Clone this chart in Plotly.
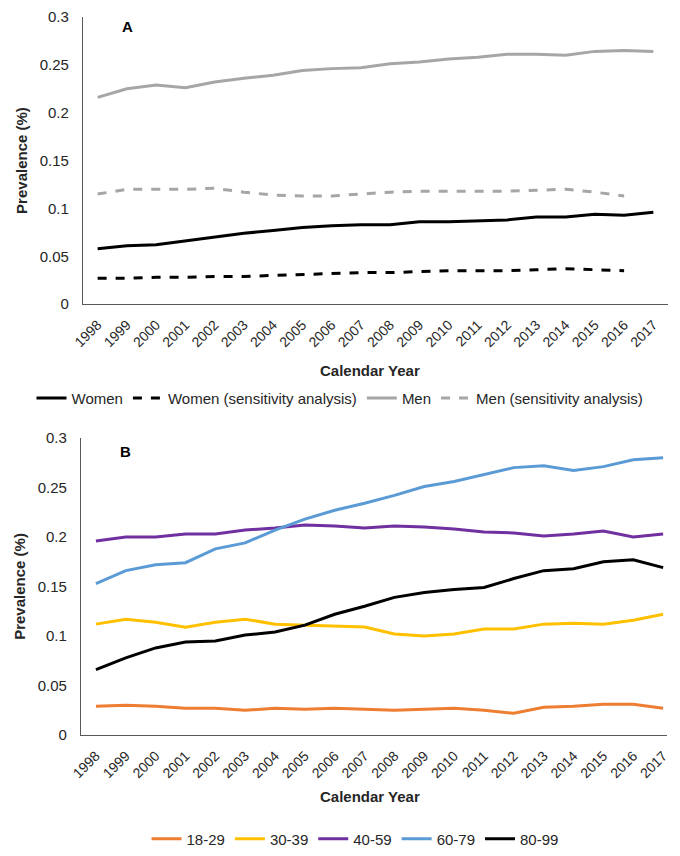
import plotly.graph_objects as go

years = [str(y) for y in range(1998, 2018)]
years_sens = years[:19]

# Panel A: sex
women = [0.058, 0.061, 0.062, 0.066, 0.070, 0.074, 0.077, 0.080, 0.082, 0.083,
         0.083, 0.086, 0.086, 0.087, 0.088, 0.091, 0.091, 0.094, 0.093, 0.096]
women_sens = [0.027, 0.027, 0.028, 0.028, 0.029, 0.029, 0.030, 0.031, 0.032, 0.033,
              0.033, 0.034, 0.035, 0.035, 0.035, 0.036, 0.037, 0.036, 0.035]
men = [0.216, 0.225, 0.229, 0.226, 0.232, 0.236, 0.239, 0.244, 0.246, 0.247,
       0.251, 0.253, 0.256, 0.258, 0.261, 0.261, 0.260, 0.264, 0.265, 0.264]
men_sens = [0.115, 0.120, 0.120, 0.120, 0.121, 0.117, 0.114, 0.113, 0.113, 0.115,
            0.117, 0.118, 0.118, 0.118, 0.118, 0.119, 0.120, 0.117, 0.113]

# Panel B: age groups
age_18_29 = [0.029, 0.030, 0.029, 0.027, 0.027, 0.025, 0.027, 0.026, 0.027, 0.026,
             0.025, 0.026, 0.027, 0.025, 0.022, 0.028, 0.029, 0.031, 0.031, 0.027]
age_30_39 = [0.112, 0.117, 0.114, 0.109, 0.114, 0.117, 0.112, 0.111, 0.110, 0.109,
             0.102, 0.100, 0.102, 0.107, 0.107, 0.112, 0.113, 0.112, 0.116, 0.122]
age_40_59 = [0.196, 0.200, 0.200, 0.203, 0.203, 0.207, 0.209, 0.212, 0.211, 0.209,
             0.211, 0.210, 0.208, 0.205, 0.204, 0.201, 0.203, 0.206, 0.200, 0.203]
age_60_79 = [0.153, 0.166, 0.172, 0.174, 0.188, 0.194, 0.207, 0.218, 0.227, 0.234,
             0.242, 0.251, 0.256, 0.263, 0.270, 0.272, 0.267, 0.271, 0.278, 0.280]
age_80_99 = [0.066, 0.078, 0.088, 0.094, 0.095, 0.101, 0.104, 0.111, 0.122, 0.130,
             0.139, 0.144, 0.147, 0.149, 0.158, 0.166, 0.168, 0.175, 0.177, 0.169]

FONT = "Liberation Sans, Arial, sans-serif"
TXT = "#262626"

# page has an 8px body margin, so the figure is drawn 8px in from the corner
W, H, PAD = 672, 848, 8


def px(x):
    return (x - PAD) / W


def py(y):
    return 1 - (y - PAD) / H


fig = go.Figure()

# panel A traces
sex_series = [
    ("Women", years, women, "black", "solid"),
    ("Women (sensitivity analysis)", years_sens, women_sens, "black", "dash"),
    ("Men", years, men, "#a6a6a6", "solid"),
    ("Men (sensitivity analysis)", years_sens, men_sens, "#a6a6a6", "dash"),
]
for name, x, y, col, dash in sex_series:
    fig.add_trace(go.Scatter(x=x, y=y, name=name, mode="lines",
                             line=dict(color=col, width=3, dash=dash),
                             xaxis="x", yaxis="y", legend="legend"))

# panel B traces
age_series = [
    ("18-29", age_18_29, "#ed7d31"),
    ("30-39", age_30_39, "#ffc000"),
    ("40-59", age_40_59, "#7030a0"),
    ("60-79", age_60_79, "#5b9bd5"),
    ("80-99", age_80_99, "#000000"),
]
for name, y, col in age_series:
    fig.add_trace(go.Scatter(x=years, y=y, name=name, mode="lines",
                             line=dict(color=col, width=3),
                             xaxis="x2", yaxis="y2", legend="legend2"))

# automargin off so the plot areas stay where the domains put them
xcommon = dict(type="category", showgrid=False, zeroline=False, showline=True,
               linecolor="#595959", linewidth=1.2, ticks="", tickangle=-45,
               automargin=False, ticklabelstandoff=6,
               tickfont=dict(family=FONT, size=14, color=TXT))
ycommon = dict(range=[0, 0.3], tickvals=[0, 0.05, 0.1, 0.15, 0.2, 0.25, 0.3],
               ticktext=["0", "0.05", "0.1", "0.15", "0.2", "0.25", "0.3"],
               showgrid=False, zeroline=False, showline=True,
               linecolor="#595959", linewidth=1.2, ticks="", automargin=False,
               ticklabelstandoff=10,
               tickfont=dict(family=FONT, size=15, color=TXT),
               title=dict(text="<b>Prevalence (%)</b>", standoff=8,
                          font=dict(family=FONT, size=15, color=TXT)))

fig.update_layout(
    width=W, height=H,
    margin=dict(l=0, r=0, t=0, b=0),
    paper_bgcolor="white", plot_bgcolor="white",
    xaxis=dict(xcommon, domain=[px(83), px(668)], anchor="y", range=[-0.5, 19.5]),
    yaxis=dict(ycommon, domain=[py(307), py(17)], anchor="x"),
    xaxis2=dict(xcommon, domain=[px(81), px(667)], anchor="y2", range=[-0.5, 19.13]),
    yaxis2=dict(ycommon, domain=[py(742), py(442)], anchor="x2"),
    legend=dict(orientation="h", x=px(340), xanchor="center", y=py(402),
                yanchor="middle", font=dict(family=FONT, size=15, color=TXT),
                itemwidth=30),
    legend2=dict(orientation="h", x=px(355), xanchor="center", y=py(847),
                 yanchor="middle", font=dict(family=FONT, size=15, color=TXT),
                 itemwidth=30),
    showlegend=True,
)

fig.add_annotation(text="<b>Calendar Year</b>", x=px(370), y=py(374), xref="paper",
                   yref="paper", showarrow=False,
                   font=dict(family=FONT, size=15, color=TXT))
fig.add_annotation(text="<b>Calendar Year</b>", x=px(370), y=py(815), xref="paper",
                   yref="paper", showarrow=False,
                   font=dict(family=FONT, size=15, color=TXT))
fig.add_annotation(text="<b>A</b>", x=px(120), y=py(16), xref="paper",
                   yref="paper", showarrow=False,
                   font=dict(family=FONT, size=15, color="black"))
fig.add_annotation(text="<b>B</b>", x=px(118), y=py(456), xref="paper",
                   yref="paper", showarrow=False,
                   font=dict(family=FONT, size=15, color="black"))

fig.write_html("out.html")
